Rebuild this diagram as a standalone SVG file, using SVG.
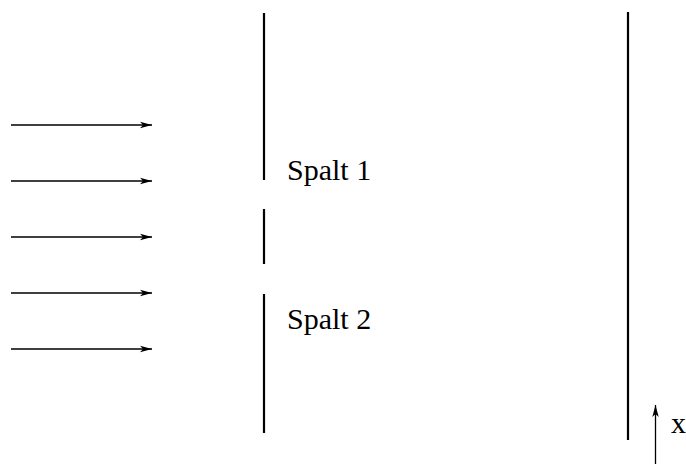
<svg xmlns="http://www.w3.org/2000/svg" width="686" height="464" viewBox="0 0 686 464">
<style>
.ray{stroke:#000;stroke-width:1.3;fill:none}
.wall{stroke:#000;stroke-width:2.2;fill:none}
.lbl{font-size:30px;fill:#000}
</style>
<defs>
<marker id="ah" markerUnits="userSpaceOnUse" markerWidth="12" markerHeight="8" refX="12" refY="4" orient="auto">
<path d="M0,0.8 L12,4 L0,7.2 L3,4 Z" fill="#000"/>
</marker>
</defs>
<rect width="686" height="464" fill="#fff"/>
<g id="connectors">
<line class="ray" x1="11" y1="125" x2="152" y2="125" marker-end="url(#ah)"/>
<line class="ray" x1="11" y1="181" x2="152" y2="181" marker-end="url(#ah)"/>
<line class="ray" x1="11" y1="237" x2="152" y2="237" marker-end="url(#ah)"/>
<line class="ray" x1="11" y1="293" x2="152" y2="293" marker-end="url(#ah)"/>
<line class="ray" x1="11" y1="349" x2="152" y2="349" marker-end="url(#ah)"/>
<line class="ray" x1="655.5" y1="464" x2="655.5" y2="405" marker-end="url(#ah)"/>
</g>
<g id="slit-wall">
<line class="wall" x1="264" y1="13" x2="264" y2="180"/>
<line class="wall" x1="264" y1="209" x2="264" y2="264"/>
<line class="wall" x1="264" y1="294" x2="264" y2="433"/>
</g>
<g id="screen">
<line class="wall" x1="628" y1="12" x2="628" y2="440"/>
</g>
<g id="label-spalt1"><text class="lbl" x="287" y="180" font-family="'Times New Roman', 'Liberation Serif', 'DejaVu Serif', serif">Spalt 1</text></g>
<g id="label-spalt2"><text class="lbl" x="287" y="329" font-family="'Liberation Serif', serif">Spalt 2</text></g>
<g id="label-x"><text class="lbl" x="671" y="433" font-family="'Times New Roman', serif">x</text></g>
</svg>
